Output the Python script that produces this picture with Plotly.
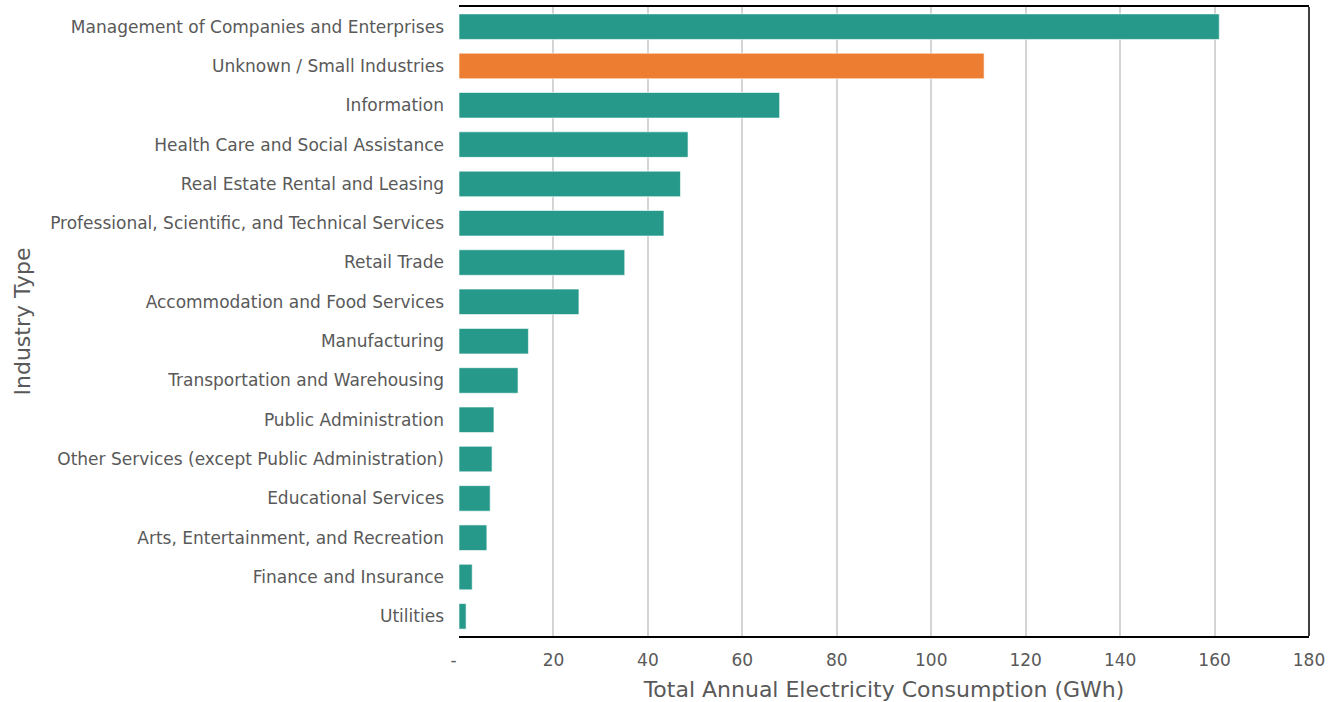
import plotly.graph_objects as go

industries = [
    "Management of Companies and Enterprises",
    "Unknown / Small Industries",
    "Information",
    "Health Care and Social Assistance",
    "Real Estate Rental and Leasing",
    "Professional, Scientific, and Technical Services",
    "Retail Trade",
    "Accommodation and Food Services",
    "Manufacturing",
    "Transportation and Warehousing",
    "Public Administration",
    "Other Services (except Public Administration)",
    "Educational Services",
    "Arts, Entertainment, and Recreation",
    "Finance and Insurance",
    "Utilities",
]
consumption_gwh = [161.0, 111.2, 67.9, 48.5, 46.9, 43.4, 35.1, 25.4,
                   14.7, 12.5, 7.4, 7.0, 6.6, 5.9, 2.8, 1.5]
highlight = "Unknown / Small Industries"

tick_vals = [0, 20, 40, 60, 80, 100, 120, 140, 160, 180]
tick_text = ["-\u00a0\u00a0", "20", "40", "60", "80", "100", "120", "140", "160", "180"]

TEAL = "#26998a"
ORANGE = "#ed7d31"
TXT = "#595959"
FONT = "DejaVu Sans, Verdana, sans-serif"

colors = [ORANGE if c == highlight else TEAL for c in industries]

fig = go.Figure(go.Bar(
    x=consumption_gwh,
    y=industries,
    orientation="h",
    marker=dict(color=colors, line=dict(color="rgba(255,255,255,0.6)", width=1)),
    hoverinfo="x+y",
))

PLOT_L, PLOT_R = 459, 1309
plot_w = PLOT_R - PLOT_L

fig.update_layout(
    width=1340, height=702,
    margin=dict(l=PLOT_L, r=1340 - PLOT_R, t=7, b=66),
    paper_bgcolor="white", plot_bgcolor="white",
    bargap=0.35,
    showlegend=False,
    font=dict(family=FONT, color=TXT, size=17),
    xaxis=dict(
        range=[0, 180], automargin=False,
        tickvals=tick_vals, ticktext=tick_text,
        showgrid=True, gridcolor="#d4d4d4", gridwidth=1.5,
        zeroline=False,
        showline=True, linecolor="black", linewidth=1.5, mirror=True,
        ticks="", ticklabelstandoff=8,
        tickfont=dict(size=17, color=TXT),
        title=dict(text="Total Annual Electricity Consumption (GWh)",
                   font=dict(size=22, color=TXT), standoff=12),
    ),
    yaxis=dict(
        categoryorder="array", categoryarray=industries[::-1],
        autorange=False, range=[-0.5, len(industries) - 0.5],
        automargin=False,
        showgrid=False, zeroline=False, showline=False,
        ticks="", ticklabelstandoff=14,
        tickfont=dict(size=17, color=TXT),
    ),
    shapes=[dict(type="line", xref="paper", yref="paper", x0=1, x1=1, y0=0, y1=1,
                 line=dict(color="black", width=1.5))],
    annotations=[dict(
        text="Industry Type", textangle=-90,
        xref="paper", yref="paper",
        x=(22 - PLOT_L) / plot_w, y=0.5,
        xanchor="center", yanchor="middle", showarrow=False,
        font=dict(size=22, color=TXT, family=FONT),
    )],
)

fig.write_html("out.html")
